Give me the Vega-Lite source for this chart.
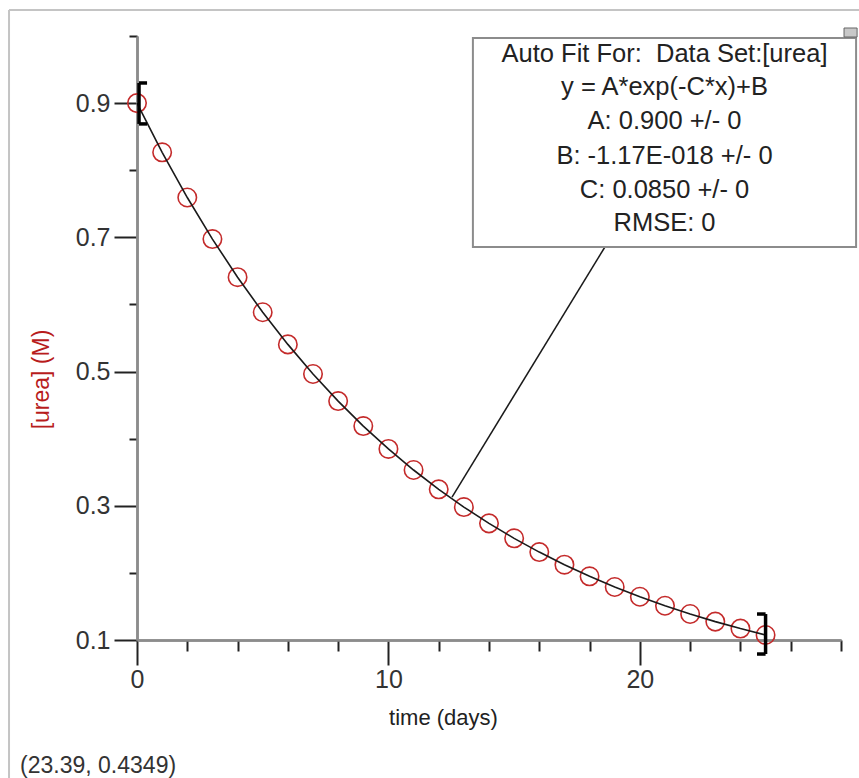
{
  "$schema": "https://vega.github.io/schema/vega-lite/v6.json",
  "width": 704,
  "height": 604,
  "autosize": "none",
  "padding": {"left": 137, "top": 36, "right": 18, "bottom": 138},
  "background": "white",
  "config": {
    "view": {"stroke": null},
    "font": "Liberation Sans",
    "axis": {
      "grid": false,
      "domainColor": "#8c8c8c",
      "domainWidth": 2.5,
      "tickColor": "#222222",
      "tickWidth": 2,
      "labelFont": "Liberation Sans",
      "labelFontSize": 25,
      "labelColor": "#333333",
      "labelFlush": false,
      "labelOverlap": false,
      "labelBound": false,
      "titleFont": "Liberation Sans",
      "titleFontWeight": "normal",
      "titleFontSize": 22
    }
  },
  "datasets": {
    "urea": [
      {"time": 0, "urea": 0.9},
      {"time": 1, "urea": 0.8267},
      {"time": 2, "urea": 0.7593},
      {"time": 3, "urea": 0.6974},
      {"time": 4, "urea": 0.6406},
      {"time": 5, "urea": 0.5884},
      {"time": 6, "urea": 0.5405},
      {"time": 7, "urea": 0.4964},
      {"time": 8, "urea": 0.456},
      {"time": 9, "urea": 0.4188},
      {"time": 10, "urea": 0.3847},
      {"time": 11, "urea": 0.3533},
      {"time": 12, "urea": 0.3245},
      {"time": 13, "urea": 0.2981},
      {"time": 14, "urea": 0.2738},
      {"time": 15, "urea": 0.2515},
      {"time": 16, "urea": 0.231},
      {"time": 17, "urea": 0.2122},
      {"time": 18, "urea": 0.1949},
      {"time": 19, "urea": 0.179},
      {"time": 20, "urea": 0.1644},
      {"time": 21, "urea": 0.151},
      {"time": 22, "urea": 0.1387},
      {"time": 23, "urea": 0.1274},
      {"time": 24, "urea": 0.117},
      {"time": 25, "urea": 0.1075}
    ],
    "brackets": [
      {"x": 0.08, "x2": 0.08, "y": 0.93, "y2": 0.869},
      {"x": 0.08, "x2": 0.4, "y": 0.93, "y2": 0.93},
      {"x": 0.08, "x2": 0.4, "y": 0.869, "y2": 0.869},
      {"x": 25.0, "x2": 25.0, "y": 0.1387, "y2": 0.0791},
      {"x": 24.66, "x2": 25.0, "y": 0.1387, "y2": 0.1387},
      {"x": 24.66, "x2": 25.0, "y": 0.0791, "y2": 0.0791}
    ],
    "frame": [
      {"x": -5.09, "x2": -5.09, "y": 1.0387, "y2": -0.1057},
      {"x": -5.09, "x2": 28.72, "y": 1.0387, "y2": 1.0387}
    ],
    "leader": [
      {"x": 12.53, "x2": 18.61, "y": 0.313, "y2": 0.6856}
    ],
    "box": [
      {"x": 13.36, "x2": 28.6, "y": 0.997, "y2": 0.6856}
    ],
    "square": [
      {"x": 28.12, "x2": 28.64, "y": 1.0119, "y2": 0.9985}
    ],
    "boxtext": [
      {"x": 20.98, "y": 0.9736, "t": "Auto Fit For: \u00a0Data Set:[urea]"},
      {"x": 20.98, "y": 0.924, "t": "y = A*exp(-C*x)+B"},
      {"x": 20.98, "y": 0.8726, "t": "A: 0.900 +/- 0"},
      {"x": 20.98, "y": 0.8219, "t": "B: -1.17E-018 +/- 0"},
      {"x": 20.98, "y": 0.771, "t": "C: 0.0850 +/- 0"},
      {"x": 20.98, "y": 0.7217, "t": "RMSE: 0"}
    ],
    "readout": [
      {"x": -4.65, "y": -0.0878, "t": "(23.39, 0.4349)"}
    ]
  },
  "layer": [
    {
      "data": {"name": "urea"},
      "mark": {"type": "point", "shape": "circle", "filled": false, "size": 340, "stroke": "#c42b2b", "strokeWidth": 1.6, "opacity": 1},
      "encoding": {
        "x": {"field": "time", "type": "quantitative",
              "scale": {"domain": [0, 28], "nice": false, "zero": false},
              "axis": {"orient": "bottom", "values": [0, 10, 20], "tickSize": 25, "labelPadding": 2,
                       "title": "time (days)", "titleColor": "#222222", "titleX": 306, "titleY": 77,
                       "titleAlign": "center", "titleBaseline": "middle", "titleAngle": 0}},
        "y": {"field": "urea", "type": "quantitative",
              "scale": {"domain": [0.1, 1.0], "nice": false, "zero": false},
              "axis": {"orient": "left", "values": [0.1, 0.3, 0.5, 0.7, 0.9], "format": ".1f", "tickSize": 23, "labelPadding": 4,
                       "title": "[urea] (M)", "titleColor": "#b81c1c", "titleFontSize": 23, "titleX": -96, "titleY": 343,
                       "titleAlign": "center", "titleBaseline": "middle", "titleAngle": -90}}
      }
    },
    {
      "data": {"name": "urea"},
      "mark": {"type": "line", "color": "#1a1a1a", "strokeWidth": 1.6},
      "encoding": {
        "x": {"field": "time", "type": "quantitative",
              "scale": {"domain": [0, 28], "nice": false, "zero": false},
              "axis": {"orient": "bottom", "values": [2, 4, 6, 8, 12, 14, 16, 18, 22, 24, 26, 28], "tickSize": 11, "labels": false, "title": null}},
        "y": {"field": "urea", "type": "quantitative",
              "scale": {"domain": [0.1, 1.0], "nice": false, "zero": false},
              "axis": {"orient": "left", "values": [0.2, 0.4, 0.6, 0.8, 1.0], "tickSize": 8, "labels": false, "title": null}}
      }
    },
    {
      "data": {"name": "brackets"},
      "mark": {"type": "rule", "color": "#000000", "strokeWidth": 3.5, "clip": false},
      "encoding": {
        "x": {"field": "x", "type": "quantitative", "scale": {"domain": [0, 28], "nice": false, "zero": false}, "axis": null},
        "x2": {"field": "x2"},
        "y": {"field": "y", "type": "quantitative", "scale": {"domain": [0.1, 1.0], "nice": false, "zero": false}, "axis": null},
        "y2": {"field": "y2"}
      }
    },
    {
      "data": {"name": "frame"},
      "mark": {"type": "rule", "color": "#c4c4c4", "strokeWidth": 2, "clip": false},
      "encoding": {
        "x": {"field": "x", "type": "quantitative", "scale": {"domain": [0, 28], "nice": false, "zero": false}, "axis": null},
        "x2": {"field": "x2"},
        "y": {"field": "y", "type": "quantitative", "scale": {"domain": [0.1, 1.0], "nice": false, "zero": false}, "axis": null},
        "y2": {"field": "y2"}
      }
    },
    {
      "data": {"name": "leader"},
      "mark": {"type": "rule", "color": "#1a1a1a", "strokeWidth": 1.5, "clip": false},
      "encoding": {
        "x": {"field": "x", "type": "quantitative", "scale": {"domain": [0, 28], "nice": false, "zero": false}, "axis": null},
        "x2": {"field": "x2"},
        "y": {"field": "y", "type": "quantitative", "scale": {"domain": [0.1, 1.0], "nice": false, "zero": false}, "axis": null},
        "y2": {"field": "y2"}
      }
    },
    {
      "data": {"name": "box"},
      "mark": {"type": "rect", "fill": "white", "stroke": "#8c8c8c", "strokeWidth": 2, "clip": false},
      "encoding": {
        "x": {"field": "x", "type": "quantitative", "scale": {"domain": [0, 28], "nice": false, "zero": false}, "axis": null},
        "x2": {"field": "x2"},
        "y": {"field": "y", "type": "quantitative", "scale": {"domain": [0.1, 1.0], "nice": false, "zero": false}, "axis": null},
        "y2": {"field": "y2"}
      }
    },
    {
      "data": {"name": "square"},
      "mark": {"type": "rect", "fill": "#c8c8c8", "stroke": "#666666", "strokeWidth": 1, "clip": false},
      "encoding": {
        "x": {"field": "x", "type": "quantitative", "scale": {"domain": [0, 28], "nice": false, "zero": false}, "axis": null},
        "x2": {"field": "x2"},
        "y": {"field": "y", "type": "quantitative", "scale": {"domain": [0.1, 1.0], "nice": false, "zero": false}, "axis": null},
        "y2": {"field": "y2"}
      }
    },
    {
      "data": {"name": "boxtext"},
      "mark": {"type": "text", "font": "Liberation Sans", "fontSize": 25.5, "color": "#222222", "align": "center", "baseline": "middle", "clip": false},
      "encoding": {
        "x": {"field": "x", "type": "quantitative", "scale": {"domain": [0, 28], "nice": false, "zero": false}, "axis": null},
        "y": {"field": "y", "type": "quantitative", "scale": {"domain": [0.1, 1.0], "nice": false, "zero": false}, "axis": null},
        "text": {"field": "t"}
      }
    },
    {
      "data": {"name": "readout"},
      "mark": {"type": "text", "font": "Liberation Sans", "fontSize": 23, "color": "#333333", "align": "left", "baseline": "middle", "clip": false},
      "encoding": {
        "x": {"field": "x", "type": "quantitative", "scale": {"domain": [0, 28], "nice": false, "zero": false}, "axis": null},
        "y": {"field": "y", "type": "quantitative", "scale": {"domain": [0.1, 1.0], "nice": false, "zero": false}, "axis": null},
        "text": {"field": "t"}
      }
    }
  ],
  "resolve": {"axis": {"x": "independent", "y": "independent"}}
}
